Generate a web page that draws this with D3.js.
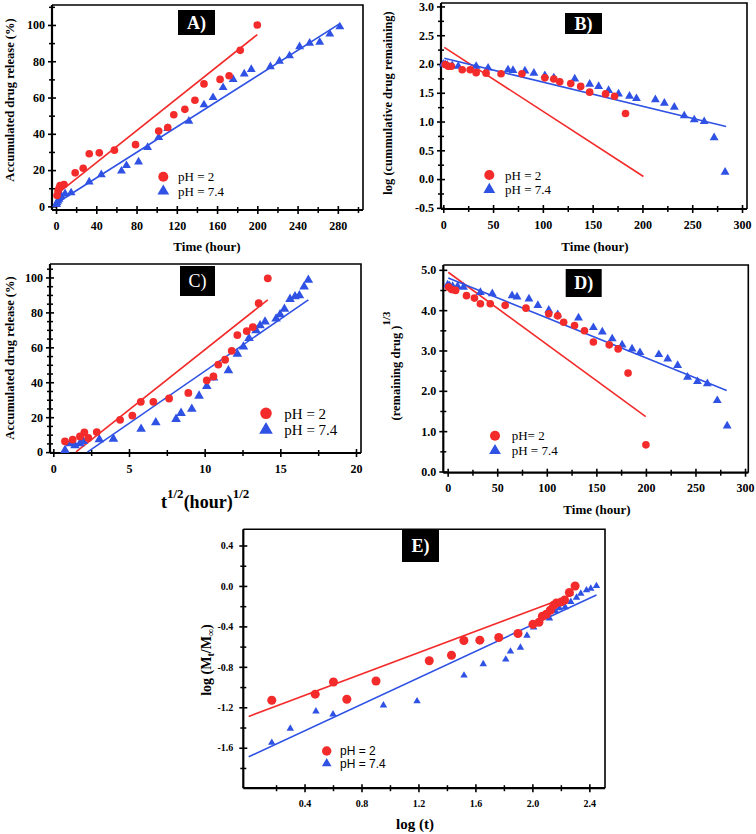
<!DOCTYPE html>
<html><head><meta charset="utf-8">
<script src="https://cdn.jsdelivr.net/npm/d3@7"></script>
<style>body{margin:0;background:#fff}</style>
</head><body>
<svg id="chart" width="756" height="834" xmlns="http://www.w3.org/2000/svg"></svg>
<script>
// ---------------- DATA ----------------
// Panel A: zero order
const A_pH2_t = [1,2,3,4,6,8,19,27,33,43,58,79,102,111,117,128,138,147,163,172,183,200];
const A_pH2_y = [6,8.5,10,11.5,11.5,12,18.5,21,29,29.5,31,34,41.5,43.5,50.5,53.5,58.5,67.5,70,72,86,100];
const A_pH74_t = [0.5,1,2,3,4,5,9,15,33,45,65,70,82,91,102,111,132,147,156,166,176,187,194,213,222,232,242,252,262,272,282];
const A_pH74_y = [1,2,3,4,5,6,7,7.5,13.5,17.5,19.5,22.5,24.5,32.5,38,43,47,56,60,65.5,70,73,75.5,77,80,83,88,90,90.5,95,99];
const A_fit_pH2 = [[-2,5.5],[200,94.7]];
const A_fit_pH74 = [[-2,0.9],[282,100.7]];
const A_xTicks = [0,40,80,120,160,200,240,280];
const A_yTicks = [0,20,40,60,80,100];

// Panel B: first order
const B_pH2_t = [2,5,8,19,27,33,43,58,79,102,111,117,128,138,147,163,172,183];
const B_pH2_y = [1.99,1.96,1.96,1.90,1.90,1.85,1.84,1.83,1.83,1.76,1.74,1.69,1.66,1.61,1.51,1.48,1.44,1.14];
const B_pH74_t = [0,2,4,9,15,33,45,65,70,82,91,102,111,132,147,156,166,176,187,194,213,222,232,242,252,262,272,283];
const B_pH74_y = [2.0,1.99,1.98,1.97,1.96,1.96,1.93,1.90,1.89,1.88,1.84,1.80,1.76,1.74,1.65,1.61,1.54,1.48,1.44,1.40,1.38,1.32,1.25,1.10,1.03,1.0,0.72,0.12];
const B_fit_pH2 = [[1,2.29],[201,0.045]];
const B_fit_pH74 = [[1,2.10],[284,0.915]];
const B_xTicks = [0,50,100,150,200,250,300];
const B_yTicks = [-0.5,0,0.5,1,1.5,2,2.5,3];

// Panel C: Higuchi
const C_pH2_x = [0.77,1.28,1.76,2.05,2.31,2.87,4.41,5.22,5.78,6.61,7.65,8.92,10.14,10.58,10.9,11.35,11.79,12.16,12.78,13.18,13.57,14.17];
const C_pH2_y = [6.2,7.2,9,11.3,8.1,11.5,18.5,20.9,28.8,28.8,30.7,33.9,41.1,43.3,50.1,52.9,58,67,69.3,71.6,85.3,99.5];
const C_pH74_x = [0.77,1.1,1.43,1.76,1.98,3.04,3.97,5.8,6.77,8.11,8.44,9.15,9.63,10.14,10.58,11.57,12.16,12.56,12.93,13.4,13.66,13.99,14.72,14.98,15.27,15.64,15.97,16.26,16.57,16.85];
const C_pH74_y = [1.1,4.9,3.8,4.9,6.2,7.2,7.6,13.2,17,18.9,22.3,24.7,32.2,37.7,42.6,46.7,56.2,60.3,65.2,69.7,72.5,74.6,76.3,78.8,81.9,87.6,89.1,89.7,94.7,98.5];
const C_fit_pH2 = [[1.5,0.2],[14.17,87.2]];
const C_fit_pH74 = [[2.25,0],[16.85,87.2]];
const C_xTicks = [0,5,10,15,20];
const C_yTicks = [0,20,40,60,80,100];

// Panel D: Hixson-Crowell
const D_pH2_t = [1,4,8,19,27,33,43,58,79,102,111,117,128,138,147,163,172,182,200];
const D_pH2_y = [4.57,4.51,4.49,4.36,4.30,4.16,4.16,4.12,4.05,3.91,3.86,3.70,3.62,3.49,3.21,3.14,3.04,2.44,0.66];
const D_pH74_t = [0,2,5,10,16,33,45,65,70,82,91,102,111,132,147,156,166,176,186,194,213,222,232,242,252,262,272,282];
const D_pH74_y = [4.63,4.60,4.59,4.59,4.57,4.44,4.41,4.36,4.33,4.28,4.12,4.0,3.89,3.81,3.57,3.46,3.29,3.14,3.04,2.95,2.90,2.79,2.63,2.34,2.23,2.18,1.76,1.13];
const D_fit_pH2 = [[0.6,4.94],[199.8,1.36]];
const D_fit_pH74 = [[0.6,4.80],[281.5,2.01]];
const D_xTicks = [0,50,100,150,200,250,300];
const D_yTicks = [0,1,2,3,4,5];

// Panel E: Korsmeyer-Peppas
const E_pH2_x = [0.17,0.475,0.603,0.697,0.902,1.276,1.432,1.519,1.631,1.764,1.899,2.004,2.046,2.07,2.098,2.126,2.15,2.168,2.203,2.226,2.26,2.30];
const E_pH2_y = [-1.13,-1.07,-0.95,-1.12,-0.94,-0.74,-0.685,-0.54,-0.536,-0.51,-0.47,-0.38,-0.36,-0.30,-0.28,-0.24,-0.19,-0.17,-0.158,-0.14,-0.065,0.0];
const E_pH74_x = [0.17,0.30,0.48,0.60,0.954,1.19,1.52,1.655,1.813,1.846,1.916,1.962,2.009,2.046,2.12,2.163,2.19,2.23,2.27,2.31,2.34,2.38,2.41,2.45];
const E_pH74_y = [-1.55,-1.41,-1.24,-1.27,-1.18,-1.14,-0.885,-0.773,-0.727,-0.648,-0.61,-0.49,-0.41,-0.365,-0.32,-0.25,-0.22,-0.21,-0.158,-0.115,-0.075,-0.042,-0.026,0.0];
const E_fit_pH2 = [[0.008,-1.29],[2.29,-0.085]];
const E_fit_pH74 = [[0.008,-1.69],[2.45,-0.09]];
const E_xTicks = [0.4,0.8,1.2,1.6,2.0,2.4];
const E_yTicks = [-1.6,-1.2,-0.8,-0.4,0.0,0.4];

const legendLabels = ["pH = 2","pH = 7.4"];

// ---------------- DRAW ----------------
const RED = "#f32b2b", BLUE = "#2f52e4";
const SERIF = "'Liberation Serif','Times New Roman',serif";
const SANS = "'Liberation Sans',Arial,sans-serif";
const svg = d3.select("#chart");
svg.append("rect").attr("width",756).attr("height",834).attr("fill","#fff");

function range(a,b,s){const r=[];for(let v=a;v<=b+1e-9;v+=s)r.push(+v.toFixed(4));return r;}
function zip(xs,ys){return xs.map((v,i)=>[v,ys[i]]);}

function panel(p){
  const g = svg.append("g");
  const x = d3.scaleLinear().domain(p.xd).range([p.L,p.R]);
  const y = d3.scaleLinear().domain(p.yd).range([p.B,p.T]);
  g.append("path").attr("d",`M${p.L},${p.T}H${p.R}V${p.B}`)
    .attr("fill","none").attr("stroke","#000").attr("stroke-width",1.6);
  const tk = p.tick||4, tkm = p.tickMinor||3;
  const minorX = p.xMinor.filter(v=>!p.xTicks.some(t=>Math.abs(t-v)<1e-6));
  const minorY = p.yMinor.filter(v=>!p.yTicks.some(t=>Math.abs(t-v)<1e-6));
  const gxm = g.append("g").attr("transform",`translate(0,${p.B})`)
    .call(d3.axisBottom(x).tickValues(minorX).tickFormat("").tickSize(tkm));
  gxm.selectAll(".tick line").attr("y1",-tkm).attr("y2",tkm).attr("stroke-width",1.5);
  gxm.select(".domain").remove();
  const gym = g.append("g").attr("transform",`translate(${p.L},0)`)
    .call(d3.axisLeft(y).tickValues(minorY).tickFormat("").tickSize(tkm));
  gym.selectAll(".tick line").attr("x1",-tkm).attr("x2",tkm).attr("stroke-width",1.5);
  gym.select(".domain").remove();
  const gx = g.append("g").attr("transform",`translate(0,${p.B})`)
    .call(d3.axisBottom(x).tickValues(p.xTicks).tickFormat(p.xFmt).tickSize(tk).tickPadding(p.xPad||7).tickSizeOuter(0));
  gx.selectAll(".tick line").attr("y1",-tk).attr("y2",tk).attr("stroke-width",1.6);
  gx.select(".domain").attr("stroke-width",2.2).attr("d",`M${p.L},0H${p.R}`);
  gx.selectAll("text").attr("font-family",SERIF).attr("font-weight","bold").attr("font-size",p.tfs||12).attr("fill","#000");
  const gy = g.append("g").attr("transform",`translate(${p.L},0)`)
    .call(d3.axisLeft(y).tickValues(p.yTicks).tickFormat(p.yFmt).tickSize(tk).tickPadding(p.yPad||3).tickSizeOuter(0));
  gy.selectAll(".tick line").attr("x1",-tk).attr("x2",tk).attr("stroke-width",1.6);
  gy.select(".domain").attr("stroke-width",2.2).attr("d",`M0,${p.T}V${p.B}`);
  gy.selectAll("text").attr("font-family",SERIF).attr("font-weight","bold").attr("font-size",p.tfs||12).attr("fill","#000");

  const line = d3.line().x(d=>x(d[0])).y(d=>y(d[1]));
  g.append("path").datum(p.fit2).attr("d",line).attr("stroke",RED).attr("stroke-width",1.6).attr("fill","none");
  g.append("path").datum(p.fit74).attr("d",line).attr("stroke",BLUE).attr("stroke-width",1.6).attr("fill","none");

  const circ = d3.symbol().type(d3.symbolCircle).size(p.cs||46);
  const tri = d3.symbol().type(d3.symbolTriangle).size(p.ts||34);
  g.append("g").selectAll("path").data(p.d74).join("path")
    .attr("d",tri).attr("fill",BLUE).attr("transform",d=>`translate(${x(d[0])},${y(d[1])})`);
  g.append("g").selectAll("path").data(p.d2).join("path")
    .attr("d",circ).attr("fill",RED).attr("transform",d=>`translate(${x(d[0])},${y(d[1])})`);

  g.append("rect").attr("x",p.box[0]).attr("y",p.box[1]).attr("width",p.box[2]).attr("height",p.box[3]).attr("fill","#000");
  g.append("text").attr("x",p.box[0]+p.box[2]/2).attr("y",p.box[1]+p.box[3]/2+6)
    .attr("text-anchor","middle").attr("fill","#fff").attr("font-family",SERIF)
    .attr("font-weight",p.boxW||"bold").attr("font-size",p.boxFs||18).text(p.label);

  const lg = g.append("g");
  const lcirc = d3.symbol().type(d3.symbolCircle).size(p.lcs||80);
  const ltri = d3.symbol().type(d3.symbolTriangle).size(p.lts||60);
  lg.append("path").attr("d",lcirc).attr("fill",RED).attr("transform",`translate(${p.leg[0]},${p.leg[1]})`);
  lg.append("path").attr("d",ltri).attr("fill",BLUE).attr("transform",`translate(${p.leg[0]},${p.leg[1]+p.legDy})`);
  const labels = p.legLabels||legendLabels;
  labels.forEach((t,i)=>{
    lg.append("text").attr("x",p.leg[2]).attr("y",p.leg[1]+i*p.legDy+p.lfs*0.35)
      .attr("font-family",p.lfont||SERIF).attr("font-size",p.lfs).attr("fill","#000").text(t);
  });
  return {g,x,y};
}

const fmtInt = d=>String(d);
const fmt1 = d=>d.toFixed(1);

panel({L:52,R:363,T:5,B:210,xd:[-4,305],yd:[-2,111],
  xTicks:A_xTicks,yTicks:A_yTicks,xMinor:range(0,300,20),yMinor:range(0,110,10),
  xFmt:fmtInt,yFmt:fmtInt,
  d2:zip(A_pH2_t,A_pH2_y),d74:zip(A_pH74_t,A_pH74_y),fit2:A_fit_pH2,fit74:A_fit_pH74,
  box:[178,10,37,25],label:"A)",leg:[163.3,176.7,178],legDy:14.5,lfs:13});
panel({L:441,R:747,T:3,B:209,xd:[-2.3,305],yd:[-0.52,3.06],
  xTicks:B_xTicks,yTicks:B_yTicks,xMinor:range(0,300,25),yMinor:range(-0.5,3,0.25),
  xFmt:fmtInt,yFmt:fmt1,
  d2:zip(B_pH2_t,B_pH2_y),d74:zip(B_pH74_t,B_pH74_y),fit2:B_fit_pH2,fit74:B_fit_pH74,
  box:[565,13,37,21],label:"B)",leg:[489.3,175,505],legDy:14.5,lfs:13});
panel({L:50,R:361,T:264,B:453,xd:[-0.22,20.33],yd:[-0.5,107.7],
  xTicks:C_xTicks,yTicks:C_yTicks,xMinor:range(0,20,2.5),yMinor:range(0,105,5),
  xFmt:fmtInt,yFmt:fmtInt,
  d2:zip(C_pH2_x,C_pH2_y),d74:zip(C_pH74_x,C_pH74_y),fit2:C_fit_pH2,fit74:C_fit_pH74,
  box:[180,266,35,30],label:"C)",boxW:"normal",leg:[266,413.3,284.3],legDy:16.5,lfs:15,lcs:105,lts:80,cs:48,ts:40});
panel({L:443.3,R:748.3,T:265,B:472.7,xd:[-4.4,303.3],yd:[-0.03,5.12],
  xTicks:D_xTicks,yTicks:D_yTicks,xMinor:range(0,300,25),yMinor:range(0,5,0.5),
  xFmt:fmtInt,yFmt:fmt1,
  d2:zip(D_pH2_t,D_pH2_y),d74:zip(D_pH74_t,D_pH74_y),fit2:D_fit_pH2,fit74:D_fit_pH74,
  box:[565.7,269,36,28],label:"D)",leg:[495,435.7,511.7],legDy:15,lfs:13,legLabels:["pH= 2","pH = 7.4"]});
panel({L:243.3,R:605,T:529.3,B:788.2,xd:[-0.03,2.51],yd:[-2.0,0.56],
  xTicks:E_xTicks,yTicks:E_yTicks,xMinor:range(0.2,2.4,0.2),yMinor:range(-1.8,0.4,0.2),
  xFmt:fmt1,yFmt:fmt1,tfs:10,xPad:8,yPad:6,
  d2:zip(E_pH2_x,E_pH2_y),d74:zip(E_pH74_x,E_pH74_y),fit2:E_fit_pH2,fit74:E_fit_pH74,cs:64,ts:24,
  box:[402,530,37,32],label:"E)",leg:[326.7,751,340],legDy:12.5,lfs:12,lfont:SANS,lcs:70,lts:40});

function ytitle(xp,yp,txt,fs){
  return svg.append("text").attr("transform",`translate(${xp},${yp}) rotate(-90)`)
    .attr("text-anchor","middle").attr("font-family",SERIF).attr("font-weight","bold")
    .attr("font-size",fs||12).attr("fill","#000").text(txt);
}
function xtitle(xp,yp,txt,fs){
  return svg.append("text").attr("x",xp).attr("y",yp).attr("text-anchor","middle")
    .attr("font-family",SERIF).attr("font-weight","bold").attr("font-size",fs||13).attr("fill","#000").text(txt);
}
ytitle(14,100,"Accumulated drug release (%)",12.5);
xtitle(207,251,"Time (hour)",13);
ytitle(392,103,"log (cummulative drug remaining)",12.5);
xtitle(595,251,"Time (hour)",13);
ytitle(14,358,"Accumulated drug release (%)",12.5);
xtitle(597,514,"Time (hour)",13);
const dy = svg.append("text").attr("transform","translate(400,366) rotate(-90)")
  .attr("text-anchor","middle").attr("font-family",SERIF).attr("font-weight","bold")
  .attr("font-size",12.5).attr("fill","#000");
dy.append("tspan").text("(remaining drug )");
dy.append("tspan").attr("dy",-10).attr("font-size",11).text("1/3");
const cx = svg.append("text").attr("x",161).attr("y",508).attr("font-family",SERIF)
  .attr("font-weight","bold").attr("font-size",18).attr("fill","#000");
cx.append("tspan").text("t");
cx.append("tspan").attr("dy",-10).attr("font-size",13).text("1/2");
cx.append("tspan").attr("dy",10).text("(hour)");
cx.append("tspan").attr("dy",-10).attr("font-size",13).text("1/2");
xtitle(415,829,"log (t)",15);
const ey = svg.append("text").attr("transform","translate(211,660) rotate(-90)")
  .attr("text-anchor","middle").attr("font-family",SERIF).attr("font-weight","bold")
  .attr("font-size",14).attr("fill","#000");
ey.append("tspan").text("log (M");
ey.append("tspan").attr("dy",3).attr("font-size",10).text("t");
ey.append("tspan").attr("dy",-3).text("/M");
ey.append("tspan").attr("dy",3).attr("font-size",10).text("∞");
ey.append("tspan").attr("dy",-3).text(")");
</script>
</body></html>
